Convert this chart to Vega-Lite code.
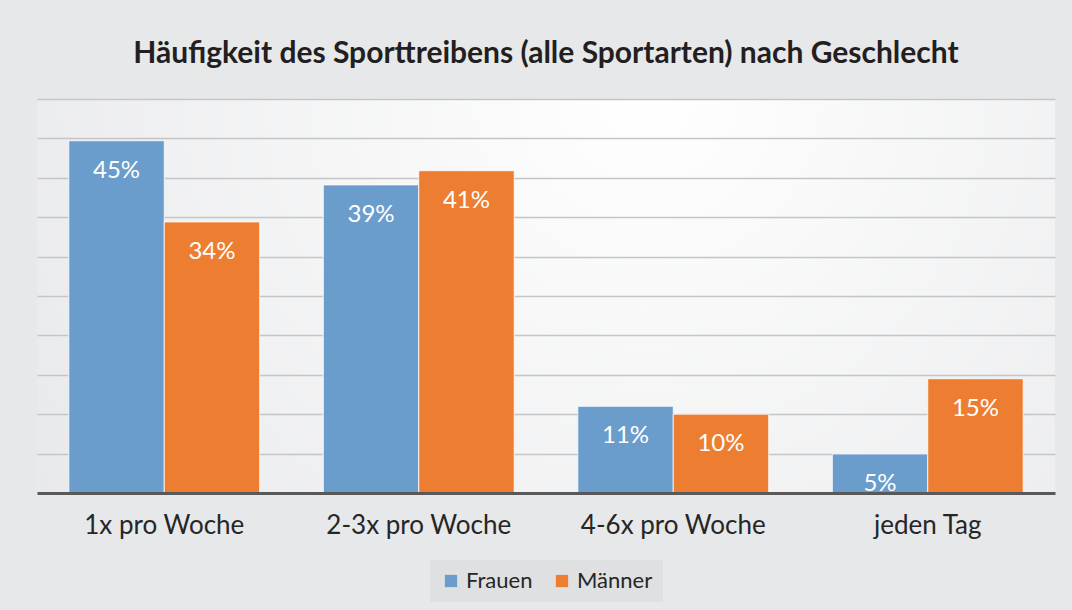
{
  "$schema": "https://vega.github.io/schema/vega-lite/v6.json",
  "autosize": "none",
  "width": 1018,
  "height": 394,
  "padding": {"left": 37, "top": 99, "right": 17, "bottom": 117},
  "background": "#e7e8ea",
  "title": {
    "text": "Häufigkeit des Sporttreibens (alle Sportarten) nach Geschlecht",
    "anchor": "middle",
    "font": "Lato",
    "fontSize": 30,
    "fontWeight": "bold",
    "color": "#231f20",
    "offset": 30
  },
  "data": {
    "values": [
      {"kategorie": "1x pro Woche", "geschlecht": "Frauen", "anteil": 44.7, "label": "45%"},
      {"kategorie": "1x pro Woche", "geschlecht": "Männer", "anteil": 34.4, "label": "34%"},
      {"kategorie": "2-3x pro Woche", "geschlecht": "Frauen", "anteil": 39.1, "label": "39%"},
      {"kategorie": "2-3x pro Woche", "geschlecht": "Männer", "anteil": 40.9, "label": "41%"},
      {"kategorie": "4-6x pro Woche", "geschlecht": "Frauen", "anteil": 11.0, "label": "11%"},
      {"kategorie": "4-6x pro Woche", "geschlecht": "Männer", "anteil": 10.0, "label": "10%"},
      {"kategorie": "jeden Tag", "geschlecht": "Frauen", "anteil": 4.95, "label": "5%"},
      {"kategorie": "jeden Tag", "geschlecht": "Männer", "anteil": 14.5, "label": "15%"}
    ]
  },
  "encoding": {
    "x": {
      "field": "kategorie",
      "type": "nominal",
      "sort": ["1x pro Woche", "2-3x pro Woche", "4-6x pro Woche", "jeden Tag"],
      "scale": {"paddingInner": 0.25, "paddingOuter": 0.125},
      "axis": {
        "title": null,
        "labelAngle": 0,
        "labelFont": "Lato",
        "labelFontSize": 26,
        "labelColor": "#262626",
        "labelPadding": 19,
        "labelLimit": 400,
        "ticks": false,
        "domainColor": "#595959",
        "domainWidth": 3,
        "zindex": 1
      }
    },
    "xOffset": {
      "field": "geschlecht",
      "type": "nominal",
      "sort": ["Frauen", "Männer"]
    },
    "y": {
      "field": "anteil",
      "type": "quantitative",
      "scale": {"domain": [0, 50], "nice": false},
      "axis": {
        "title": null,
        "labels": false,
        "ticks": false,
        "domain": false,
        "grid": true,
        "gridColor": "#c4c5c7",
        "gridWidth": 1.5,
        "values": [5, 10, 15, 20, 25, 30, 35, 40, 45, 50]
      }
    }
  },
  "layer": [
    {
      "mark": {"type": "bar", "stroke": "#ffffff", "strokeWidth": 1, "strokeOpacity": 0.8},
      "encoding": {
        "color": {
          "field": "geschlecht",
          "type": "nominal",
          "sort": ["Frauen", "Männer"],
          "scale": {"domain": ["Frauen", "Männer"], "range": ["#6a9ccc", "#ed7d31"]},
          "legend": {
            "title": null,
            "orient": "bottom",
            "direction": "horizontal",
            "symbolType": "square",
            "symbolSize": 150,
            "symbolStrokeWidth": 0,
            "labelFont": "Lato",
            "labelFontSize": 22,
            "labelColor": "#262626",
            "columnPadding": 18,
            "fillColor": "rgba(0,0,0,0.03)",
            "padding": 10,
            "offset": 22
          }
        }
      }
    },
    {
      "mark": {
        "type": "text",
        "color": "#ffffff",
        "font": "Lato",
        "fontSize": 24,
        "baseline": "top",
        "dy": 18
      },
      "encoding": {
        "text": {"field": "label"}
      }
    }
  ],
  "config": {
    "legend": {"layout": {"bottom": {"anchor": "middle"}}},
    "view": {
      "stroke": null,
      "fill": {
        "gradient": "radial",
        "x1": 0.6, "y1": 0.3, "x2": 0.6, "y2": 0.3,
        "r1": 0, "r2": 0.75,
        "stops": [
          {"offset": 0, "color": "#ffffff"},
          {"offset": 1, "color": "#e7e8ea"}
        ]
      }
    }
  }
}
